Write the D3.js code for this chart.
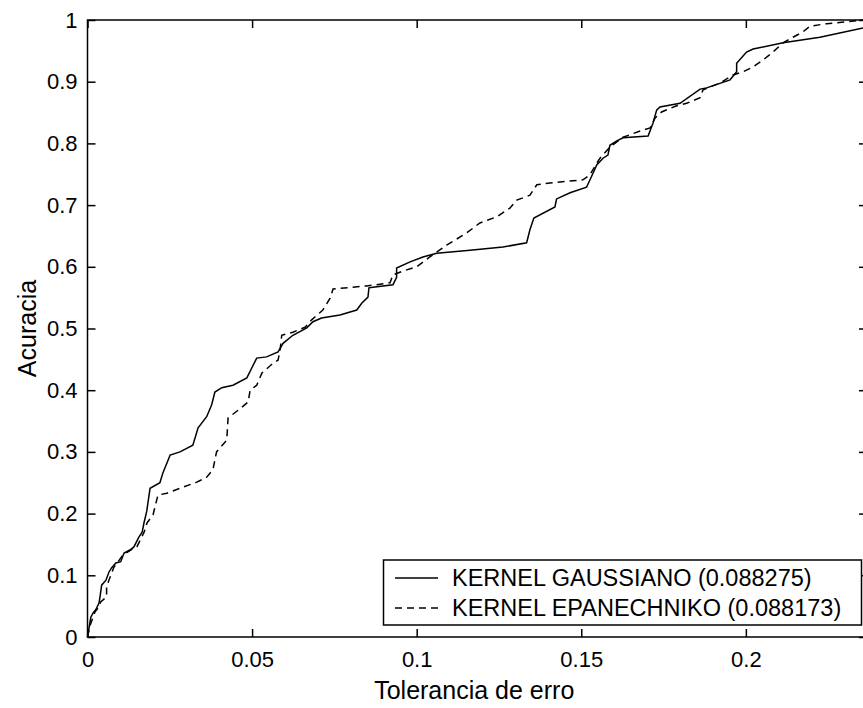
<!DOCTYPE html>
<html>
<head>
<meta charset="utf-8">
<script src="https://cdn.jsdelivr.net/npm/d3@7"></script>
<style>
  html, body { margin: 0; padding: 0; background: #fff; }
  svg { display: block; }
  text { font-family: "Liberation Sans", Arial, Helvetica, sans-serif; fill: #000; }
</style>
</head>
<body>
<svg id="chart" width="863" height="708"></svg>
<script>
// ---- Data ----
const gaussX = [0, 0.0002, 0.0010, 0.0017, 0.0025, 0.0035, 0.0038, 0.0043, 0.0056, 0.0065, 0.0073, 0.0086, 0.0101, 0.0111, 0.0129, 0.0141, 0.0156, 0.0166, 0.0172, 0.0180, 0.0190, 0.0220, 0.0229, 0.0245, 0.0251, 0.0281, 0.0320, 0.0336, 0.0362, 0.0377, 0.0387, 0.0408, 0.0442, 0.0484, 0.0499, 0.0514, 0.0544, 0.0579, 0.0594, 0.0624, 0.0666, 0.0685, 0.0711, 0.0767, 0.0818, 0.0833, 0.0852, 0.0855, 0.0867, 0.0928, 0.0939, 0.0939, 0.0980, 0.1019, 0.1061, 0.1162, 0.1262, 0.1334, 0.1344, 0.1356, 0.1420, 0.1425, 0.1466, 0.1516, 0.1536, 0.1547, 0.1566, 0.1581, 0.1587, 0.1608, 0.1627, 0.1703, 0.1718, 0.1729, 0.1739, 0.1800, 0.1861, 0.1881, 0.1952, 0.1972, 0.1972, 0.2002, 0.2022, 0.2113, 0.2225, 0.2356];
const gaussY = [0, 0.006, 0.032, 0.039, 0.044, 0.055, 0.065, 0.084, 0.092, 0.105, 0.112, 0.120, 0.122, 0.136, 0.141, 0.146, 0.162, 0.170, 0.186, 0.204, 0.241, 0.250, 0.266, 0.287, 0.295, 0.300, 0.311, 0.339, 0.357, 0.376, 0.397, 0.404, 0.408, 0.420, 0.436, 0.452, 0.454, 0.462, 0.476, 0.489, 0.501, 0.511, 0.517, 0.522, 0.530, 0.541, 0.551, 0.566, 0.567, 0.571, 0.583, 0.598, 0.608, 0.616, 0.622, 0.627, 0.632, 0.639, 0.660, 0.679, 0.697, 0.710, 0.720, 0.729, 0.752, 0.765, 0.776, 0.781, 0.797, 0.804, 0.809, 0.812, 0.833, 0.854, 0.859, 0.865, 0.888, 0.890, 0.903, 0.916, 0.930, 0.948, 0.953, 0.963, 0.972, 0.987];

const epanX = [0, 0.0008, 0.0023, 0.0035, 0.0040, 0.0058, 0.0058, 0.0065, 0.0074, 0.0080, 0.0108, 0.0131, 0.0150, 0.0172, 0.0181, 0.0199, 0.0214, 0.0241, 0.0281, 0.0332, 0.0362, 0.0381, 0.0392, 0.0423, 0.0427, 0.0466, 0.0488, 0.0494, 0.0514, 0.0530, 0.0560, 0.0579, 0.0585, 0.0590, 0.0624, 0.0661, 0.0681, 0.0715, 0.0737, 0.0746, 0.0848, 0.0878, 0.0919, 0.0928, 0.0958, 0.1000, 0.1040, 0.1091, 0.1152, 0.1192, 0.1243, 0.1283, 0.1304, 0.1344, 0.1365, 0.1405, 0.1505, 0.1526, 0.1547, 0.1557, 0.1587, 0.1627, 0.1679, 0.1709, 0.1724, 0.1744, 0.1790, 0.1820, 0.1861, 0.1870, 0.1922, 0.1961, 0.1991, 0.2022, 0.2052, 0.2082, 0.2113, 0.2143, 0.2174, 0.2195, 0.2245, 0.2306, 0.2356];
const epanY = [0, 0.019, 0.041, 0.049, 0.057, 0.065, 0.081, 0.092, 0.104, 0.113, 0.133, 0.141, 0.146, 0.170, 0.185, 0.198, 0.230, 0.233, 0.241, 0.251, 0.259, 0.271, 0.300, 0.319, 0.355, 0.371, 0.381, 0.400, 0.408, 0.428, 0.442, 0.449, 0.465, 0.489, 0.494, 0.502, 0.514, 0.530, 0.549, 0.564, 0.569, 0.571, 0.574, 0.587, 0.593, 0.600, 0.616, 0.635, 0.655, 0.671, 0.681, 0.695, 0.708, 0.716, 0.733, 0.736, 0.741, 0.749, 0.768, 0.776, 0.794, 0.810, 0.820, 0.825, 0.841, 0.851, 0.861, 0.865, 0.874, 0.887, 0.898, 0.911, 0.916, 0.924, 0.935, 0.948, 0.963, 0.972, 0.981, 0.990, 0.994, 0.997, 1.0];

const xTicks = [0, 0.05, 0.1, 0.15, 0.2];
const xTickLabels = ["0", "0.05", "0.1", "0.15", "0.2"];
const yTicks = [0, 0.1, 0.2, 0.3, 0.4, 0.5, 0.6, 0.7, 0.8, 0.9, 1];
const yTickLabels = ["0", "0.1", "0.2", "0.3", "0.4", "0.5", "0.6", "0.7", "0.8", "0.9", "1"];
const seriesNames = ["KERNEL GAUSSIANO (0.088275)", "KERNEL EPANECHNIKO (0.088173)"];
const xLabel = "Tolerancia de erro";
const yLabel = "Acuracia";

// ---- Layout ----
const L = 87.5, T = 20, R = 867, B = 637;
const xMax = 0.2368;

const svg = d3.select("#chart");
const x = d3.scaleLinear().domain([0, xMax]).range([L, R]);
const y = d3.scaleLinear().domain([0, 1]).range([B, T]);

const tickLen = 8;

// Lines
const line = d3.line().x(d => x(d[0])).y(d => y(d[1]));
const gData = gaussX.map((v, i) => [v, gaussY[i]]);
const eData = epanX.map((v, i) => [v, epanY[i]]);

svg.append("path").datum(gData)
  .attr("d", line).attr("fill", "none").attr("stroke", "#000").attr("stroke-width", 1.5);
svg.append("path").datum(eData)
  .attr("d", line).attr("fill", "none").attr("stroke", "#000").attr("stroke-width", 1.5)
  .attr("stroke-dasharray", "7,5");

// Axes (inside ticks on all four sides)
const fmtX = (d, i) => xTickLabels[i];
const fmtY = (d, i) => yTickLabels[i];

const xBottom = svg.append("g").attr("transform", `translate(0,${B})`)
  .call(d3.axisBottom(x).tickValues(xTicks).tickFormat(fmtX).tickSizeInner(-tickLen).tickSizeOuter(0).tickPadding(14));
const xTop = svg.append("g").attr("transform", `translate(0,${T})`)
  .call(d3.axisTop(x).tickValues(xTicks).tickFormat("").tickSizeInner(-tickLen).tickSizeOuter(0));
const yLeft = svg.append("g").attr("transform", `translate(${L},0)`)
  .call(d3.axisLeft(y).tickValues(yTicks).tickFormat(fmtY).tickSizeInner(-tickLen).tickSizeOuter(0).tickPadding(10));
const yRight = svg.append("g").attr("transform", `translate(${R},0)`)
  .call(d3.axisRight(y).tickValues(yTicks).tickFormat("").tickSizeInner(-tickLen).tickSizeOuter(0));

[xBottom, xTop, yLeft, yRight].forEach(g => {
  g.select(".domain").remove();
  g.selectAll(".tick line").attr("stroke", "#000").attr("stroke-width", 1.5);
  g.selectAll("text").attr("font-size", 22).attr("fill", "#000")
    .style("font-family", '"Liberation Sans", Arial, sans-serif');
});

// Frame
svg.append("rect").attr("x", L).attr("y", T).attr("width", R - L).attr("height", B - T)
  .attr("fill", "none").attr("stroke", "#000").attr("stroke-width", 1.5);

// Axis labels
svg.append("text").attr("x", (L + R) / 2 - 3).attr("y", 699)
  .attr("text-anchor", "middle").attr("font-size", 25).text(xLabel);
svg.append("text").attr("transform", `translate(36,${(T + B) / 2}) rotate(-90)`)
  .attr("text-anchor", "middle").attr("font-size", 25).text(yLabel);

// Legend
const lg = svg.append("g");
lg.append("rect").attr("x", 383.5).attr("y", 560).attr("width", 478).attr("height", 65)
  .attr("fill", "#fff").attr("stroke", "#000").attr("stroke-width", 1.5);
const rows = [578, 608];
const dashes = [null, "7,5"];
seriesNames.forEach((name, i) => {
  lg.append("line").attr("x1", 395).attr("x2", 438).attr("y1", rows[i]).attr("y2", rows[i])
    .attr("stroke", "#000").attr("stroke-width", 1.5)
    .attr("stroke-dasharray", dashes[i]);
  lg.append("text").attr("x", 452).attr("y", rows[i]).attr("dy", "0.36em")
    .attr("font-size", 23.5).text(name);
});
</script>
</body>
</html>
